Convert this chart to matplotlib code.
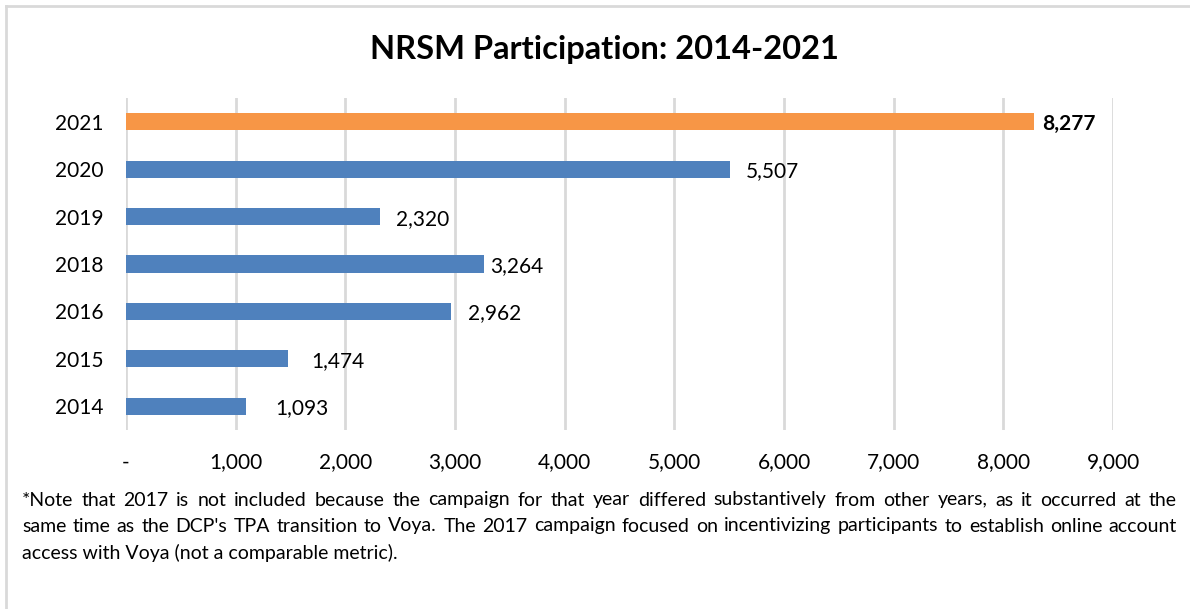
import matplotlib
matplotlib.use("Agg")
import matplotlib.pyplot as plt
from matplotlib.lines import Line2D

years = ["2014", "2015", "2016", "2018", "2019", "2020", "2021"]
participants = [1093, 1474, 2962, 3264, 2320, 5507, 8277]
bar_colors = ["#4F81BD"] * 6 + ["#F79646"]
# extra gap (pixels) between bar end and its label, as in the original
label_gap = [29, 24, 17, 6, 16, 16, 8]
xticks = [0, 1000, 2000, 3000, 4000, 5000, 6000, 7000, 8000, 9000]
xticklabels = ["-", "1,000", "2,000", "3,000", "4,000", "5,000", "6,000", "7,000", "8,000", "9,000"]
title = "NRSM Participation: 2014-2021"
note_lines = [
    "*Note that 2017 is not included because the campaign for that year differed substantively from other years, as it occurred at the",
    "same time as the DCP's TPA transition to Voya. The 2017 campaign focused on incentivizing participants to establish online account",
    "access with Voya (not a comparable metric).",
]

plt.rcParams["font.family"] = ["Lato", "DejaVu Sans"]
W, H = 1190, 609
fig = plt.figure(figsize=(W / 100, H / 100), dpi=100)

# chart border (light gray, top and left visible)
fig.add_artist(Line2D([6 / W, 6 / W], [0, 1 - 6 / H], color="#d9d9d9", lw=2))
fig.add_artist(Line2D([6 / W, 1], [1 - 6 / H, 1 - 6 / H], color="#d9d9d9", lw=2))

ax = fig.add_axes([126 / W, 1 - 430 / H, (1113 - 126) / W, (430 - 98) / H])
ypos = range(len(years))
ax.barh(ypos, participants, height=0.36, color=bar_colors, zorder=3)
ax.set_xlim(0, 9000)
ax.set_ylim(-0.5, 6.5)
ax.set_xticks(xticks)
ax.set_xticklabels(xticklabels, fontsize=15)
ax.set_yticks(list(ypos))
ax.set_yticklabels(years, fontsize=15)
ax.tick_params(axis="x", length=0, pad=16)
ax.tick_params(axis="y", length=0, pad=16.5)
ax.grid(axis="x", color="#d9d9d9", lw=2, zorder=0)
for s in ax.spines.values():
    s.set_visible(False)

for i, v in enumerate(participants):
    bold = i == len(participants) - 1
    ax.annotate(f"{v:,}", (v, i), xytext=(label_gap[i] * 0.72, -1.5), textcoords="offset points",
                ha="left", va="center", fontsize=15,
                fontweight="bold" if bold else "normal")

fig.text(604 / W, 1 - 50 / H, title, ha="center", va="center", fontsize=23.5, fontweight="bold")

# justified note text
renderer = fig.canvas.get_renderer()
x0, x1 = 22 / W, 1177 / W
ys = [500, 526, 553]
for li, line in enumerate(note_lines):
    y = 1 - ys[li] / H
    if li == len(note_lines) - 1:
        fig.text(x0, y, line, ha="left", va="center", fontsize=14)
        continue
    words = line.split(" ")
    objs = [fig.text(0, y, w, ha="left", va="center", fontsize=14) for w in words]
    widths = [o.get_window_extent(renderer).width / W for o in objs]
    gap = (x1 - x0 - sum(widths)) / (len(words) - 1)
    x = x0
    for o, w in zip(objs, widths):
        o.set_x(x)
        x += w + gap

fig.savefig("out.png", dpi=100)
